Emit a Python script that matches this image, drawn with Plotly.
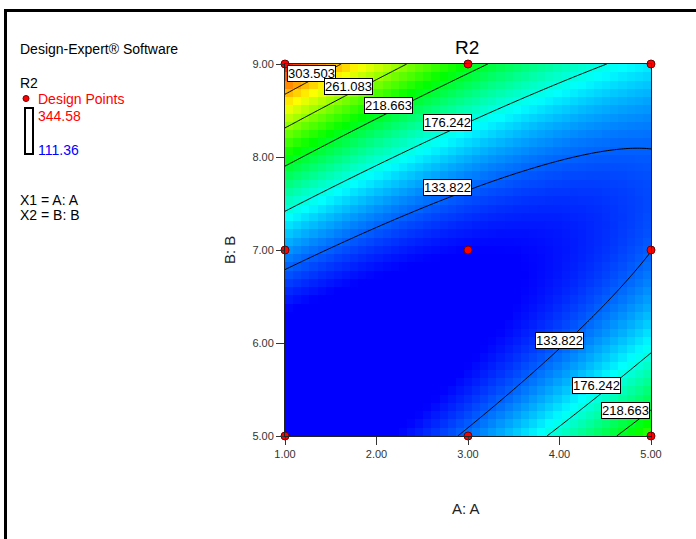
import numpy as np
import plotly.graph_objects as go

# ---------------- data ----------------
A_ticks = [1.0, 2.0, 3.0, 4.0, 5.0]
A_tick_text = ["1.00", "2.00", "3.00", "4.00", "5.00"]
B_ticks = [5.0, 6.0, 7.0, 8.0, 9.0]
B_tick_text = ["5.00", "6.00", "7.00", "8.00", "9.00"]

design_A = [1, 1, 1, 3, 3, 3, 5, 5, 5]
design_B = [5, 7, 9, 5, 7, 9, 5, 7, 9]

# fitted quadratic response-surface model (coded units a=(A-3)/2, b=(B-7)/2)
model_terms = ["Intercept", "A", "B", "AB", "A^2", "B^2"]
model_coefs = [112.0, -6.5, 45.0, -83.0, 28.0, 71.0]

resp_min = 111.36
resp_max = 344.58

contour_levels = [133.822, 176.242, 218.663, 261.083, 303.503]
label_values = ["303.503", "261.083", "218.663", "176.242", "133.822",
                "133.822", "176.242", "218.663"]
label_A = [1.295, 1.689, 2.126, 2.781, 2.781, 3.995, 4.399, 4.716]
label_B = [8.903, 8.753, 8.559, 8.376, 7.677, 6.032, 5.538, 5.269]

# ---------------- model evaluation ----------------
c = dict(zip(model_terms, model_coefs))


def response(A, B):
    a = (A - 3.0) / 2.0
    b = (B - 7.0) / 2.0
    return (c["Intercept"] + c["A"] * a + c["B"] * b + c["AB"] * a * b
            + c["A^2"] * a * a + c["B^2"] * b * b)


N = 45
xc = 1 + (np.arange(N) + 0.5) * 4.0 / N
yc = 5 + (np.arange(N) + 0.5) * 4.0 / N
XX, YY = np.meshgrid(xc, yc)
Z = response(XX, YY)

xf = np.linspace(1, 5, 161)
yf = np.linspace(5, 9, 161)
XF, YF = np.meshgrid(xf, yf)
ZF = response(XF, YF)

W, H = 696, 539
L, R, T, Bm = 285, 45, 64, 103
PW = W - L - R
PH = H - T - Bm


def px(x):
    return (x - L) / PW


def py(y):
    return (H - Bm - y) / PH


FONT = "Liberation Sans, Arial, sans-serif"

colorscale = [
    [0.0, "rgb(0,0,255)"],
    [0.25, "rgb(0,255,255)"],
    [0.5, "rgb(0,255,0)"],
    [0.75, "rgb(255,255,0)"],
    [1.0, "rgb(255,0,0)"],
]

fig = go.Figure()
fig.add_trace(go.Heatmap(
    x=xc, y=yc, z=Z, zmin=resp_min, zmax=resp_max,
    colorscale=colorscale, showscale=False, zsmooth=False, hoverinfo="skip"))

fig.add_trace(go.Contour(
    x=xf, y=yf, z=ZF, showscale=False, hoverinfo="skip",
    contours=dict(start=contour_levels[0], end=contour_levels[-1] + 0.01,
                  size=(contour_levels[-1] - contour_levels[0]) / (len(contour_levels) - 1),
                  coloring="none", showlabels=False),
    line=dict(color="black", width=1)))

fig.add_trace(go.Scatter(
    x=design_A, y=design_B, mode="markers", cliponaxis=False,
    marker=dict(color="red", size=8, line=dict(color="#700000", width=1)),
    hoverinfo="skip", showlegend=False))

annotations = []
for t, ax_, by_ in zip(label_values, label_A, label_B):
    annotations.append(dict(
        x=ax_, y=by_, xref="x", yref="y", text=t, showarrow=False,
        xanchor="center", yanchor="middle",
        font=dict(family=FONT, size=13, color="black"),
        bgcolor="white", bordercolor="black", borderwidth=1, borderpad=0))

# title and axis titles
annotations.append(dict(x=px(467), y=py(47), xref="paper", yref="paper", text="R2",
                        xanchor="center", yanchor="middle", showarrow=False,
                        font=dict(family=FONT, size=19, color="black")))
annotations.append(dict(x=px(466), y=py(508), xref="paper", yref="paper", text="A: A",
                        xanchor="center", yanchor="middle", showarrow=False,
                        font=dict(family=FONT, size=15, color="#222")))
annotations.append(dict(x=px(229), y=py(250), xref="paper", yref="paper", text="B: B",
                        xanchor="center", yanchor="middle",
                        textangle=-90, showarrow=False,
                        font=dict(family=FONT, size=15, color="#222")))

# left-side legend text
left_texts = [
    ("Design-Expert® Software", 49, 19, "black"),
    ("R2", 83, 19, "black"),
    ("Design Points", 99, 37, "red"),
    ("344.58", 116, 37, "red"),
    ("111.36", 150, 37, "blue"),
    ("X1 = A: A", 200, 19, "black"),
    ("X2 = B: B", 215, 19, "black"),
]
for t, yy, xx, col in left_texts:
    annotations.append(dict(x=px(xx), y=py(yy), xref="paper", yref="paper", text=t,
                            xanchor="left", yanchor="middle", showarrow=False,
                            borderpad=0,
                            font=dict(family=FONT, size=14, color=col)))

shapes = [
    # outer frame (left and top)
    dict(type="path", xref="paper", yref="paper",
         path=f"M {px(5.5)},{py(545)} L {px(5.5)},{py(10.5)} L {px(700)},{py(10.5)}",
         line=dict(color="black", width=3)),
    # legend bar
    dict(type="rect", xref="paper", yref="paper",
         x0=px(25), x1=px(33), y0=py(108), y1=py(154),
         line=dict(color="black", width=2), fillcolor="white"),
    # legend dot
    dict(type="circle", xref="paper", yref="paper",
         x0=px(23), x1=px(29), y0=py(95.5), y1=py(101.5),
         line=dict(color="#700000", width=1), fillcolor="red"),
]

axis_common = dict(showgrid=False, zeroline=False, showline=True, mirror=True,
                   linecolor="#222", linewidth=1, ticks="outside", ticklen=8,
                   tickcolor="#333", tickwidth=1,
                   tickfont=dict(family=FONT, size=11, color="#333"))

fig.update_layout(
    width=W, height=H,
    margin=dict(l=L, r=R, t=T, b=Bm),
    paper_bgcolor="white", plot_bgcolor="white",
    showlegend=False,
    xaxis=dict(range=[1, 5], tickvals=A_ticks, ticktext=A_tick_text, **axis_common),
    yaxis=dict(range=[5, 9], tickvals=B_ticks, ticktext=B_tick_text, **axis_common),
    annotations=annotations,
    shapes=shapes,
)

fig.write_html("out.html")
